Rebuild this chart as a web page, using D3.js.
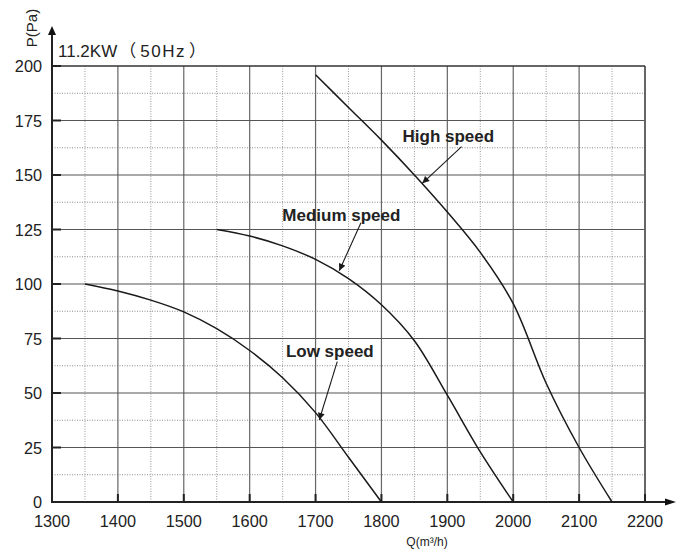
<!DOCTYPE html>
<html>
<head>
<meta charset="utf-8">
<script src="https://cdn.jsdelivr.net/npm/d3@7"></script>
<style>
html,body{margin:0;padding:0;background:#fff;}
svg{display:block;font-family:"Liberation Sans",Arial,Helvetica,"Noto Sans CJK SC",sans-serif;}
</style>
</head>
<body>
<svg id="chart" width="683" height="551"></svg>
<script>
// ---- data ----
const xMajorTicks = [1300,1400,1500,1600,1700,1800,1900,2000,2100,2200];
const xMinorTicks = [1350,1450,1550,1650,1750,1850,1950,2050,2150];
const yMajorTicks = [0,25,50,75,100,125,150,175,200];
const yMinorTicks = [12.5,37.5,62.5,87.5,112.5,137.5,162.5,187.5];

const qLow = [1350,1400,1450,1500,1550,1600,1650,1700,1750,1800];
const pLow = [100,96.8,92.6,87.2,79.5,69.5,57,41,20.5,0];

const qMedium = [1550,1600,1650,1700,1750,1800,1850,1900,1950,2000];
const pMedium = [125,122,117.5,111.3,102.5,90.5,74,49,23,0];

const qHigh = [1700,1750,1800,1850,1900,1950,2000,2050,2100,2150];
const pHigh = [196,181,166,150,133,114.5,91,54.5,25,0];

const seriesNames = ["High speed","Medium speed","Low speed"];
const labelQ = [1832,1649.5,1655];
const labelP = [165.3,129,66.4];
const arrowFromQ = [1921.6,1768.9,1732.9];
const arrowFromP = [163,128.1,64.4];
const arrowToQ = [1862,1736,1705.6];
const arrowToP = [146.2,106.1,37.6];

const titleParts = ["11.2KW","（","50Hz","）"];
const xTitle = "Q(m³/h)";
const yTitle = "P(Pa)";

// ---- drawing ----
const svg = d3.select("#chart");
const x = d3.scaleLinear().domain([1300,2200]).range([52,645]);
const y = d3.scaleLinear().domain([0,200]).range([502,66]);

const grid = svg.append("g");
grid.selectAll(".vminor").data(xMinorTicks).join("line")
  .attr("x1",d=>x(d)).attr("x2",d=>x(d)).attr("y1",y(0)).attr("y2",y(200))
  .attr("stroke","#9a9a9a").attr("stroke-width",1).attr("stroke-dasharray","1,1.5");
grid.selectAll(".hminor").data(yMinorTicks).join("line")
  .attr("x1",x(1300)).attr("x2",x(2200)).attr("y1",d=>y(d)).attr("y2",d=>y(d))
  .attr("stroke","#8a8a8a").attr("stroke-width",1).attr("stroke-dasharray","1,1.5");
grid.selectAll(".vmajor").data(xMajorTicks.slice(1)).join("line")
  .attr("x1",d=>x(d)).attr("x2",d=>x(d)).attr("y1",y(0)).attr("y2",y(200))
  .attr("stroke",d=>d===2200?"#333":"#666").attr("stroke-width",d=>d===2200?1.5:1.2);
grid.selectAll(".hmajor").data(yMajorTicks.slice(1)).join("line")
  .attr("x1",x(1300)).attr("x2",x(2200)).attr("y1",d=>y(d)).attr("y2",d=>y(d))
  .attr("stroke",d=>d===200?"#333":"#555").attr("stroke-width",d=>d===200?1.5:1.2);

svg.append("g").selectAll("line").data(yMajorTicks).join("line")
  .attr("x1",x(1300)).attr("x2",x(1300)+9).attr("y1",d=>y(d)).attr("y2",d=>y(d))
  .attr("stroke","#222").attr("stroke-width",2);
svg.append("g").selectAll("line").data(xMajorTicks).join("line")
  .attr("x1",d=>x(d)).attr("x2",d=>x(d)).attr("y1",y(0)).attr("y2",y(0)-8)
  .attr("stroke","#222").attr("stroke-width",2);

svg.append("line").attr("x1",x(1300)).attr("x2",x(1300)).attr("y1",y(0)+1).attr("y2",32)
  .attr("stroke","#222").attr("stroke-width",2);
svg.append("path").attr("d",`M${x(1300)},26 L${x(1300)-4},35 L${x(1300)+4},35 Z`).attr("fill","#111");
svg.append("line").attr("x1",x(1300)-1).attr("x2",668).attr("y1",y(0)).attr("y2",y(0))
  .attr("stroke","#222").attr("stroke-width",2.2);
svg.append("path").attr("d",`M676,${y(0)} L665,${y(0)-3.5} L665,${y(0)+3.5} Z`).attr("fill","#111");

svg.append("g").selectAll("text").data(xMajorTicks).join("text")
  .attr("x",d=>x(d)).attr("y",527).attr("text-anchor","middle")
  .attr("font-size",16.3).attr("fill","#222").text(d=>d);
svg.append("g").selectAll("text").data(yMajorTicks).join("text")
  .attr("x",42).attr("y",d=>y(d)+6).attr("text-anchor","end")
  .attr("font-size",16.3).attr("fill","#222").text(d=>d);

const title = svg.append("text").attr("x",58).attr("y",57).attr("font-size",17).attr("fill","#222");
const titleDx = [0,2,4,3];
titleParts.forEach((t,i)=>{
  title.append("tspan")
    .attr("font-family", i%2 ? "'Noto Sans CJK SC'" : "'Liberation Sans',Arial,sans-serif")
    .attr("font-size", 17)
    .attr("letter-spacing", i===2 ? 1.5 : 0)
    .attr("dx", titleDx[i])
    .text(t);
});
svg.append("text").attr("x",427).attr("y",546).attr("text-anchor","middle")
  .attr("font-size",12).attr("fill","#222").text(xTitle);
svg.append("text").attr("transform","translate(37,28) rotate(-90)").attr("text-anchor","middle")
  .attr("font-size",15).attr("fill","#222").text(yTitle);

const line = d3.line().x(d=>x(d[0])).y(d=>y(d[1])).curve(d3.curveCatmullRom.alpha(0.5));
const series = [d3.zip(qHigh,pHigh), d3.zip(qMedium,pMedium), d3.zip(qLow,pLow)];
svg.append("g").selectAll("path").data(series).join("path")
  .attr("d",line).attr("fill","none").attr("stroke","#1a1a1a").attr("stroke-width",1.5);

svg.append("defs").append("marker").attr("id","ah")
  .attr("viewBox","0 0 10 10").attr("refX",10).attr("refY",5)
  .attr("markerWidth",9).attr("markerHeight",7).attr("markerUnits","userSpaceOnUse")
  .attr("orient","auto").append("path").attr("d","M0,0 L10,5 L0,10 Z").attr("fill","#1a1a1a");
const ann = svg.append("g");
seriesNames.forEach((name,i)=>{
  ann.append("text").attr("x",x(labelQ[i])).attr("y",y(labelP[i]))
    .attr("font-size",17).attr("font-weight","bold").attr("fill","#222").text(name);
  ann.append("line").attr("x1",x(arrowFromQ[i])).attr("y1",y(arrowFromP[i]))
    .attr("x2",x(arrowToQ[i])).attr("y2",y(arrowToP[i]))
    .attr("stroke","#1a1a1a").attr("stroke-width",1.1).attr("marker-end","url(#ah)");
});
</script>
</body>
</html>
